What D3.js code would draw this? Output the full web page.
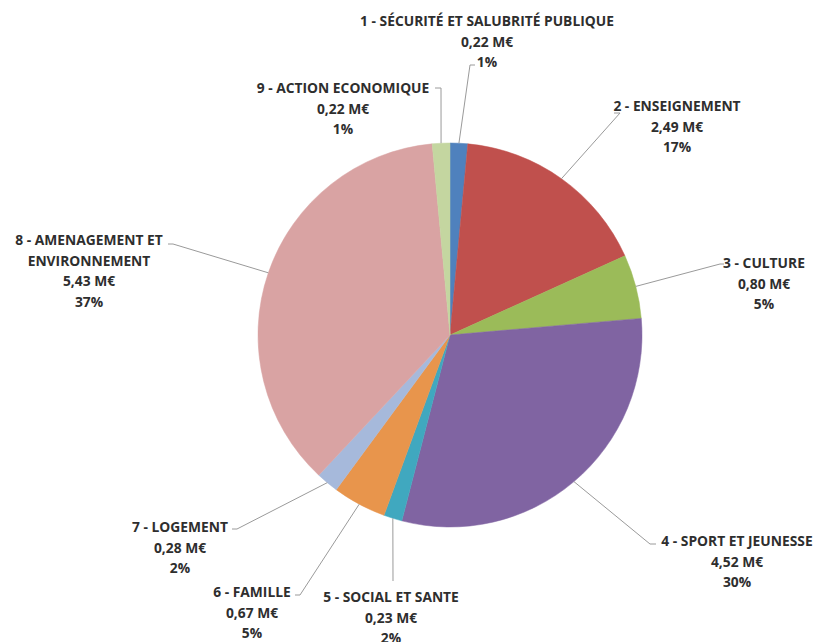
<!DOCTYPE html>
<html>
<head>
<meta charset="utf-8">
<script src="https://cdn.jsdelivr.net/npm/d3@7"></script>
<style>
  html, body { margin: 0; padding: 0; background: #fff; }
  svg { display: block; }
  text { font-family: "Open Sans", Lato, sans-serif; font-weight: 700; font-size: 13.8px; fill: #2e2e2e; }
</style>
</head>
<body>
<svg id="chart" width="818" height="642"></svg>
<script>
// ---- data ----
const categories = [
  "1 - SÉCURITÉ ET SALUBRITÉ PUBLIQUE",
  "2 - ENSEIGNEMENT",
  "3 - CULTURE",
  "4 - SPORT ET JEUNESSE",
  "5 - SOCIAL ET SANTE",
  "6 - FAMILLE",
  "7 - LOGEMENT",
  "8 - AMENAGEMENT ET|ENVIRONNEMENT",
  "9 - ACTION ECONOMIQUE"
];
const values = [0.22, 2.49, 0.80, 4.52, 0.23, 0.67, 0.28, 5.43, 0.22];
const valueLabels = ["0,22 M€", "2,49 M€", "0,80 M€", "4,52 M€", "0,23 M€", "0,67 M€", "0,28 M€", "5,43 M€", "0,22 M€"];
const percentLabels = ["1%", "17%", "5%", "30%", "2%", "5%", "2%", "37%", "1%"];
const colors = ["#4F81BD", "#C0504D", "#9BBB59", "#8064A2", "#40A8BF", "#E8954C", "#A6B9DB", "#D9A3A3", "#C4D6A0"];

// ---- layout (label placement: centre x, first-line y, elbow point) ----
const labelLayout = [
  { cx: 487, y: 20,  ex: 470, ey: 65,  hx: 475 },
  { cx: 677, y: 105, ex: 620, ey: 113, hx: 614 },
  { cx: 764, y: 262, ex: 720, ey: 264, hx: 724 },
  { cx: 737, y: 540, ex: 650, ey: 544, hx: 656 },
  { cx: 391, y: 596, ex: 393, ey: 581, hx: 393 },
  { cx: 252, y: 591, ex: 300, ey: 595, hx: 295 },
  { cx: 180, y: 526, ex: 237, ey: 529, hx: 232 },
  { cx: 89,  y: 239, ex: 173, ey: 244, hx: 168 },
  { cx: 343, y: 87,  ex: 441, ey: 88,  hx: 435 }
];

const cx = 450, cy = 335, R = 192;
const svg = d3.select("#chart");
const g = svg.append("g").attr("transform", `translate(${cx},${cy})`);

const pie = d3.pie().sort(null).value(d => d)(values);
const arc = d3.arc().innerRadius(0).outerRadius(R);

g.selectAll("path.slice")
  .data(pie)
  .join("path")
  .attr("class", "slice")
  .attr("d", arc)
  .attr("fill", (d, i) => colors[i])
  .attr("stroke", (d, i) => colors[i])
  .attr("stroke-width", 0.5);

// leader lines
pie.forEach((d, i) => {
  const a = (d.startAngle + d.endAngle) / 2;
  const px = cx + R * Math.sin(a), py = cy - R * Math.cos(a);
  const L = labelLayout[i];
  svg.append("polyline")
    .attr("points", `${px},${py} ${L.ex},${L.ey} ${L.hx},${L.ey}`)
    .attr("fill", "none")
    .attr("stroke", "#9a9a9a")
    .attr("stroke-width", 1);
});

// labels
const lineH = 20.5;
categories.forEach((c, i) => {
  const L = labelLayout[i];
  const lines = c.split("|").concat([valueLabels[i], percentLabels[i]]);
  const t = svg.append("text").attr("text-anchor", "middle").attr("dominant-baseline", "central");
  lines.forEach((ln, k) => {
    t.append("tspan").attr("x", L.cx).attr("y", L.y + k * lineH).text(ln);
  });
});
</script>
</body>
</html>
